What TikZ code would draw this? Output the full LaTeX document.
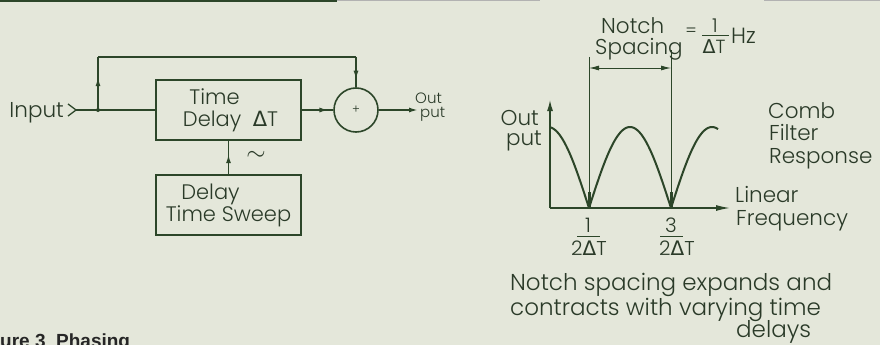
\documentclass[tikz,border=0pt]{standalone}
\usepackage{fontspec}
\setmainfont{Poppins}[UprightFont=* Light]
\newfontfamily\grfont{DejaVu Sans}
\newfontfamily\capfont{Liberation Sans}
\newcommand\DeltaSym{{\grfont Δ}}
\usetikzlibrary{arrows.meta,decorations.markings}
\definecolor{bgc}{HTML}{E4E7DA}
\definecolor{ink}{HTML}{2C4629}
\definecolor{txt}{HTML}{2A3A28}
\tikzset{
  wire/.style={draw=ink, line width=1.6pt},
  tipmid/.style={postaction={decorate}, decoration={markings, mark=at position #1 with {\arrow{Latex[length=9pt,width=5pt]}}}},
  blockbox/.style={draw=ink, line width=1.6pt, minimum width=145pt, minimum height=60pt, inner sep=0pt, align=center, text=txt, font=\fontsize{21}{22}\selectfont},
  lbl/.style={text=txt, inner sep=0pt, font=\fontsize{21.5}{22}\selectfont},
  note/.style={text=txt, inner sep=0pt, font=\fontsize{23}{25}\selectfont},
  small/.style={text=txt, inner sep=0pt, font=\fontsize{15}{15}\selectfont},
  tick/.style={text=txt, inner sep=0pt, font=\fontsize{20}{20}\selectfont},
  axisline/.style={draw=ink, line width=1.3pt},
}
\begin{document}
\begin{tikzpicture}[x=1pt,y=-1pt]
\fill[bgc] (0,0) rectangle (880,345);
\useasboundingbox (0,0) rectangle (880,345);
% top page edge
\fill[ink] (0,0) rectangle (337,2.5);
\fill[black!30] (337,0) rectangle (540,1.5);
\fill[black!30] (764,0) rectangle (880,1.5);

% ---------------- block diagram ----------------
\node[lbl, anchor=base east] (input) at (64,117) {Input};
\coordinate (chev) at (76,110);
\draw[wire, line width=1.3pt] (68,104) -- (chev) -- (68,116);
\coordinate (junc) at (98,110);
\node[blockbox] (delay) at (228.5,110) {Time\hspace*{28pt}\\\hspace*{4pt}Delay\ \ \DeltaSym T};
\node[draw=ink, line width=1.6pt, circle, minimum size=44pt, inner sep=0pt] (sum) at (356,110) {\fontsize{12}{12}\selectfont\textcolor{txt}{+}};
\node[blockbox] (sweep) at (228.5,205) {Delay\hspace*{36pt}\\Time Sweep};
\node[text=txt, font=\fontsize{28}{28}\selectfont] (tilde) at (256,156) {$\sim$};
\node[small, anchor=base west] (out1) at (415,103) {Out};
\node[small, anchor=base west] (out2) at (420,117) {put};
\coordinate (outend) at (418,110);
\coordinate (ffa) at (98,57);
\coordinate (ffb) at (356,57);

\draw[wire] (chev) -- (delay.west);
\draw[wire, tipmid=0.62] (junc) -- (ffa);
\draw[wire] (ffa) -- (ffb);
\draw[wire, tipmid=0.75] (ffb) -- (sum.north);
\fill[ink] (junc) circle (2pt);
\draw[wire, tipmid=0.85] (delay.east) -- (sum.west);
\draw[wire, -{Latex[length=9pt,width=5pt]}] (sum.east) -- (outend);
\draw[wire, tipmid=0.6] (sweep.north) -- (delay.south);

% ---------------- comb response ----------------
\coordinate (origin) at (550,208);
\coordinate (ytop) at (550,100);
\coordinate (xend) at (730,208);
\draw[axisline, -{Latex[length=11pt,width=6pt]}] (origin) -- (ytop);
\draw[axisline, -{Latex[length=14pt,width=6pt]}] (origin) -- (xend);
\draw[draw=ink, line width=2pt, line join=round]
  plot[domain=550:718, samples=169] (\x, {208-81*abs(cos((\x-548)/82*180))});
\draw[draw=ink, line width=3pt] (589,192) -- (589,208);
\draw[draw=ink, line width=3pt] (671,192) -- (671,208);
\coordinate (n1top) at (589,57);
\coordinate (n2top) at (671,50);
\coordinate (n1bot) at (589,208);
\coordinate (n2bot) at (671,208);
\draw[ink, line width=0.9pt] (n1top) -- (n1bot);
\draw[ink, line width=0.9pt] (n2top) -- (n2bot);
\draw[ink, line width=0.9pt, {Latex[length=10pt,width=5pt]}-{Latex[length=10pt,width=5pt]}] (589,68) -- (671,68);

\node[lbl, anchor=base west] (notch) at (601,34) {Notch};
\node[lbl, anchor=base west] (spacing) at (595,55) {Spacing};
\node[small, font=\fontsize{17}{17}\selectfont] (eq) at (691,32) {=};
\node[small, font=\fontsize{19}{19}\selectfont] (num) at (715,26) {1};
\draw[ink, line width=1pt] (702,36) -- (729,36);
\node[small, font=\fontsize{19}{19}\selectfont] (den) at (714,47) {\DeltaSym T};
\node[small, font=\fontsize{22}{22}\selectfont, anchor=base west] (hz) at (731,44) {Hz};

\node[lbl, anchor=base east] (yl1) at (539,125) {Out};
\node[lbl, anchor=base east] (yl2) at (542,145) {put};

\node[lbl, anchor=base west] (comb1) at (768,118) {Comb};
\node[lbl, anchor=base west] (comb2) at (769,140) {Filter};
\node[lbl, anchor=base west] (comb3) at (769,163) {Response};
\node[lbl, anchor=base west] (lin1) at (735,202) {Linear};
\node[lbl, anchor=base west] (lin2) at (736,225) {Frequency};

\node[tick] (f1n) at (588,225) {1};
\draw[ink, line width=1pt] (577,236) -- (600,236);
\node[tick] (f1d) at (589,248) {2\DeltaSym T};
\node[tick] (f3n) at (671,225) {3};
\draw[ink, line width=1pt] (660,236) -- (683,236);
\node[tick] (f3d) at (677,248) {2\DeltaSym T};

\node[note, anchor=base west] (note1) at (510,290) {Notch spacing expands and};
\node[note, anchor=base west] (note2) at (510,315) {contracts with varying time};
\node[note, anchor=base west] (note3) at (736,337) {delays};

\node[anchor=base west, inner sep=0pt, text=black!85, font=\capfont\bfseries\fontsize{19}{19}\selectfont] (caption) at (0,347) {ure 3\ \ Phasing};
\end{tikzpicture}
\end{document}
